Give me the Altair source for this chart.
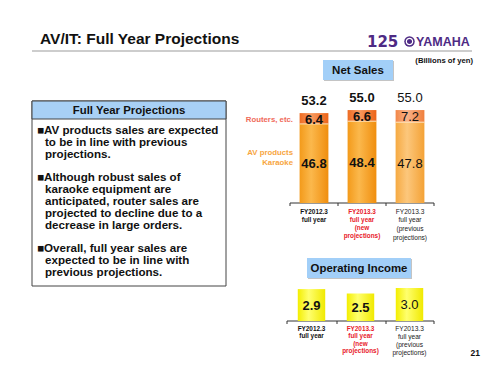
import altair as alt
import pandas as pd

# ---------------- data ----------------
cats = ["FY2012.3 full year", "FY2013.3 new", "FY2013.3 previous"]
cat_labels = ["FY2012.3\nfull year", "FY2013.3\nfull year\n(new\nprojections)",
              "FY2013.3\nfull year\n(previous\nprojections)"]
av_karaoke = [46.8, 48.4, 47.8]
routers = [6.4, 6.6, 7.2]
totals = [53.2, 55.0, 55.0]
op_income = [2.9, 2.5, 3.0]

title = "AV/IT: Full Year Projections"
box_title = "Full Year Projections"
bullets = [
    ["AV products sales are expected", "to be in line with previous", "projections."],
    ["Although robust sales of", "karaoke equipment are", "anticipated, router sales are",
     "projected to decline due to a", "decrease in large orders."],
    ["Overall, full year sales are", "expected to be in line with", "previous projections."],
]

FONT = "Liberation Sans, Arial, DejaVu Sans"
W, H = 500, 375

one = pd.DataFrame({"a": [0]})

ns = pd.DataFrame({"cat": cats, "label": cat_labels, "av": av_karaoke,
                   "rt": routers, "total": totals, "idx": [0, 1, 2]})
oi = pd.DataFrame({"cat": cats, "label": cat_labels, "oi": op_income, "idx": [0, 1, 2]})


def txt(s, x, y, size, weight="bold", color="#111111", align="left", baseline="middle", font=FONT):
    return alt.Chart(one).mark_text(text=s, fontSize=size, fontWeight=weight, color=color,
                                    align=align, baseline=baseline, font=font).encode(
        x=alt.value(x), y=alt.value(y))


def rect(x1, x2, y1, y2, fill, stroke=None, sw=0.0):
    kw = dict(fill=fill)
    if stroke is not None:
        kw.update(stroke=stroke, strokeWidth=sw)
    return alt.Chart(one).mark_rect(**kw).encode(
        x=alt.value(x1), x2=alt.value(x2), y=alt.value(y1), y2=alt.value(y2))


def rule(x1, x2, y1, y2, color="#222222", w=1.0):
    return alt.Chart(one).mark_rule(color=color, strokeWidth=w).encode(
        x=alt.value(x1), x2=alt.value(x2), y=alt.value(y1), y2=alt.value(y2))


def grad(c_edge, c_mid, c_edge2):
    return alt.Gradient(gradient="linear", x1=0, x2=1, y1=0, y2=0,
                        stops=[alt.GradientStop(color=c_edge, offset=0),
                               alt.GradientStop(color=c_mid, offset=0.4),
                               alt.GradientStop(color=c_edge2, offset=1)])


# ---------------- decorations ----------------
decor = []
decor.append(txt(title, 40, 38.5, 15.5))
decor.append(rule(32, 472, 51, 51, "#bdbdbd", 1.6))
# logo
PURPLE = "#4e2a84"
decor.append(txt("125", 367, 42, 15, color=PURPLE, font="DejaVu Sans"))
decor.append(alt.Chart(one).mark_point(filled=True, color=PURPLE, size=110, opacity=1).encode(
    x=alt.value(409.5), y=alt.value(41.5)))
decor.append(alt.Chart(one).mark_point(filled=False, color="white", size=40, strokeWidth=1.2, opacity=1).encode(
    x=alt.value(409.5), y=alt.value(41.5)))
decor.append(txt("YAMAHA", 416, 42, 12.5, color=PURPLE))
decor.append(txt("(Billions of yen)", 473, 60.5, 7.7, align="right"))

# Net Sales label box
decor.append(rect(324, 394, 61, 81, "#c4c4c4"))
decor.append(rect(323, 393, 60, 80, "#a2cff8"))
decor.append(txt("Net Sales", 358, 70.5, 11.5, align="center"))

# Operating Income label box
decor.append(rect(308, 412, 259, 279, "#c4c4c4"))
decor.append(rect(307, 411, 258, 278, "#a2cff8"))
decor.append(txt("Operating Income", 359, 268.5, 11.4, align="center"))

# left text box
decor.append(rect(32, 226, 101, 286, "white", "#444444", 1))
decor.append(rect(32, 226, 101, 119, "#a8d0f5", "#444444", 1))
decor.append(txt(box_title, 129, 110.5, 11.4, align="center"))
line_y = [[131, 143, 155], [178, 190, 202, 214, 226], [249, 261, 273]]
for para, ys_ in zip(bullets, line_y):
    for i, (ln, yy) in enumerate(zip(para, ys_)):
        if i == 0:
            decor.append(txt("\u25a0" + ln, 37, yy, 11.6))
        else:
            decor.append(txt(ln, 45, yy, 11.6))

# side labels of net sales chart
decor.append(txt("Routers, etc.", 293, 120, 7.8, color="#f06a5a", align="right"))
decor.append(txt("AV products", 293, 153, 7.8, color="#f7a53e", align="right"))
decor.append(txt("Karaoke", 293, 163, 7.8, color="#f7a53e", align="right"))

# axis baselines with tick marks
decor.append(rule(290, 434, 203, 203, "#333333", 1))
for tx in [290, 338, 386, 434]:
    decor.append(rule(tx, tx, 203, 206, "#333333", 1))
decor.append(rule(287, 434, 321, 321, "#333333", 1))
for tx in [287, 337, 386, 434]:
    decor.append(rule(tx, tx, 321, 324, "#333333", 1))

decor.append(txt("21", 480, 352.5, 8.5, align="right"))

# ---------------- net sales chart ----------------
xs = alt.X("cat:N", scale=alt.Scale(domain=cats, range=[290, 434], paddingInner=0.4, paddingOuter=0.2),
           axis=None)


def ys(f):
    return alt.Y(f, type="quantitative",
                 scale=alt.Scale(domain=[0, 60], range=[203, 101.6], nice=False, zero=True), axis=None)


base = alt.Chart(ns).transform_calculate(top="datum.av + datum.rt",
                                         mid_rt="datum.av + datum.rt / 2",
                                         mid_av="datum.av / 2",
                                         zero="0")

low12 = base.transform_filter("datum.idx < 2").mark_bar(
    color=grad("#f39a1a", "#fbb84c", "#f08e0e")).encode(x=xs, y=ys("zero"), y2="av:Q")
low3 = base.transform_filter("datum.idx == 2").mark_bar(
    color=grad("#f6aa42", "#fcc77c", "#f4a236")).encode(x=xs, y=ys("zero"), y2="av:Q")
up12 = base.transform_filter("datum.idx < 2").mark_bar(
    color=grad("#ee6b22", "#f89a60", "#ec6418")).encode(x=xs, y=ys("av"), y2="top:Q")
up3 = base.transform_filter("datum.idx == 2").mark_bar(
    color=grad("#f28748", "#f9b288", "#f07f3c")).encode(x=xs, y=ys("av"), y2="top:Q")
sep = base.mark_tick(color="#fde3b8", thickness=1.4, size=29).encode(x=xs, y=ys("av"))

lab_b = base.transform_filter("datum.idx < 2")
lab_n = base.transform_filter("datum.idx == 2")
t_rt_b = lab_b.mark_text(fontSize=13, fontWeight="bold", font=FONT, color="#111111", baseline="middle", dy=1).encode(
    x=xs, y=ys("mid_rt"), text=alt.Text("rt:Q", format=".1f"))
t_rt_n = lab_n.mark_text(fontSize=13, fontWeight="normal", font=FONT, color="#111111", baseline="middle", dy=1).encode(
    x=xs, y=ys("mid_rt"), text=alt.Text("rt:Q", format=".1f"))
t_av_b = lab_b.mark_text(fontSize=13, fontWeight="bold", font=FONT, color="#111111", baseline="middle", dy=1).encode(
    x=xs, y=ys("mid_av"), text=alt.Text("av:Q", format=".1f"))
t_av_n = lab_n.mark_text(fontSize=13, fontWeight="normal", font=FONT, color="#111111", baseline="middle", dy=1).encode(
    x=xs, y=ys("mid_av"), text=alt.Text("av:Q", format=".1f"))
t_tot_b = lab_b.mark_text(fontSize=13, fontWeight="bold", font=FONT, color="#111111", baseline="alphabetic", dy=-8).encode(
    x=xs, y=ys("total"), text=alt.Text("total:Q", format=".1f"))
t_tot_n = lab_n.mark_text(fontSize=13, fontWeight="normal", font=FONT, color="#111111", baseline="alphabetic", dy=-8).encode(
    x=xs, y=ys("total"), text=alt.Text("total:Q", format=".1f"))

xl1 = base.transform_filter("datum.idx == 0").mark_text(
    fontSize=6.4, fontWeight="bold", font=FONT, color="#111111", baseline="alphabetic",
    lineBreak="\n", lineHeight=8.3).encode(x=xs, y=alt.value(213.5), text="label:N")
xl2 = base.transform_filter("datum.idx == 1").mark_text(
    fontSize=6.4, fontWeight="bold", font=FONT, color="#e8202a", baseline="alphabetic",
    lineBreak="\n", lineHeight=8.3).encode(x=xs, y=alt.value(213.5), text="label:N")
xl3 = base.transform_filter("datum.idx == 2").mark_text(
    fontSize=6.6, fontWeight="normal", font=FONT, color="#222222", baseline="alphabetic",
    lineBreak="\n", lineHeight=8.7).encode(x=xs, y=alt.value(213.5), text="label:N")

net_sales = alt.layer(low12, low3, up12, up3, sep, t_rt_b, t_rt_n, t_av_b, t_av_n,
                      t_tot_b, t_tot_n, xl1, xl2, xl3)

# ---------------- operating income chart ----------------
xo = alt.X("cat:N", scale=alt.Scale(domain=cats, range=[287, 434], paddingInner=0.44, paddingOuter=0.22),
           axis=None)


def yo(f):
    return alt.Y(f, type="quantitative",
                 scale=alt.Scale(domain=[0, 3], range=[321, 288], nice=False, zero=True), axis=None)


obase = alt.Chart(oi).transform_calculate(mid="datum.oi / 2", zero="0")
obar = obase.mark_bar(color=grad("#f3ee00", "#ffff6e", "#f0e900")).encode(x=xo, y=yo("zero"), y2="oi:Q")
o_b = obase.transform_filter("datum.idx < 2").mark_text(
    fontSize=13, fontWeight="bold", font=FONT, color="#111111", baseline="middle", dy=1).encode(
    x=xo, y=yo("mid"), text=alt.Text("oi:Q", format=".1f"))
o_n = obase.transform_filter("datum.idx == 2").mark_text(
    fontSize=13, fontWeight="normal", font=FONT, color="#111111", baseline="middle", dy=0).encode(
    x=xo, y=yo("mid"), text=alt.Text("oi:Q", format=".1f"))
ol1 = obase.transform_filter("datum.idx == 0").mark_text(
    fontSize=6.4, fontWeight="bold", font=FONT, color="#111111", baseline="alphabetic",
    lineBreak="\n", lineHeight=7.5).encode(x=xo, y=alt.value(330.5), text="label:N")
ol2 = obase.transform_filter("datum.idx == 1").mark_text(
    fontSize=6.4, fontWeight="bold", font=FONT, color="#e8202a", baseline="alphabetic",
    lineBreak="\n", lineHeight=7.5).encode(x=xo, y=alt.value(330.5), text="label:N")
ol3 = obase.transform_filter("datum.idx == 2").mark_text(
    fontSize=6.6, fontWeight="normal", font=FONT, color="#222222", baseline="alphabetic",
    lineBreak="\n", lineHeight=8).encode(x=xo, y=alt.value(330.5), text="label:N")

op_inc = alt.layer(obar, o_b, o_n, ol1, ol2, ol3)

chart = alt.layer(*decor, net_sales, op_inc).resolve_scale(
    x="independent", y="independent"
).properties(
    width=W, height=H, autosize=alt.AutoSizeParams(type="none"), padding=0, background="white"
).configure_view(stroke=None)

chart.save("out.html", embed_options={"renderer": "svg", "actions": False})
